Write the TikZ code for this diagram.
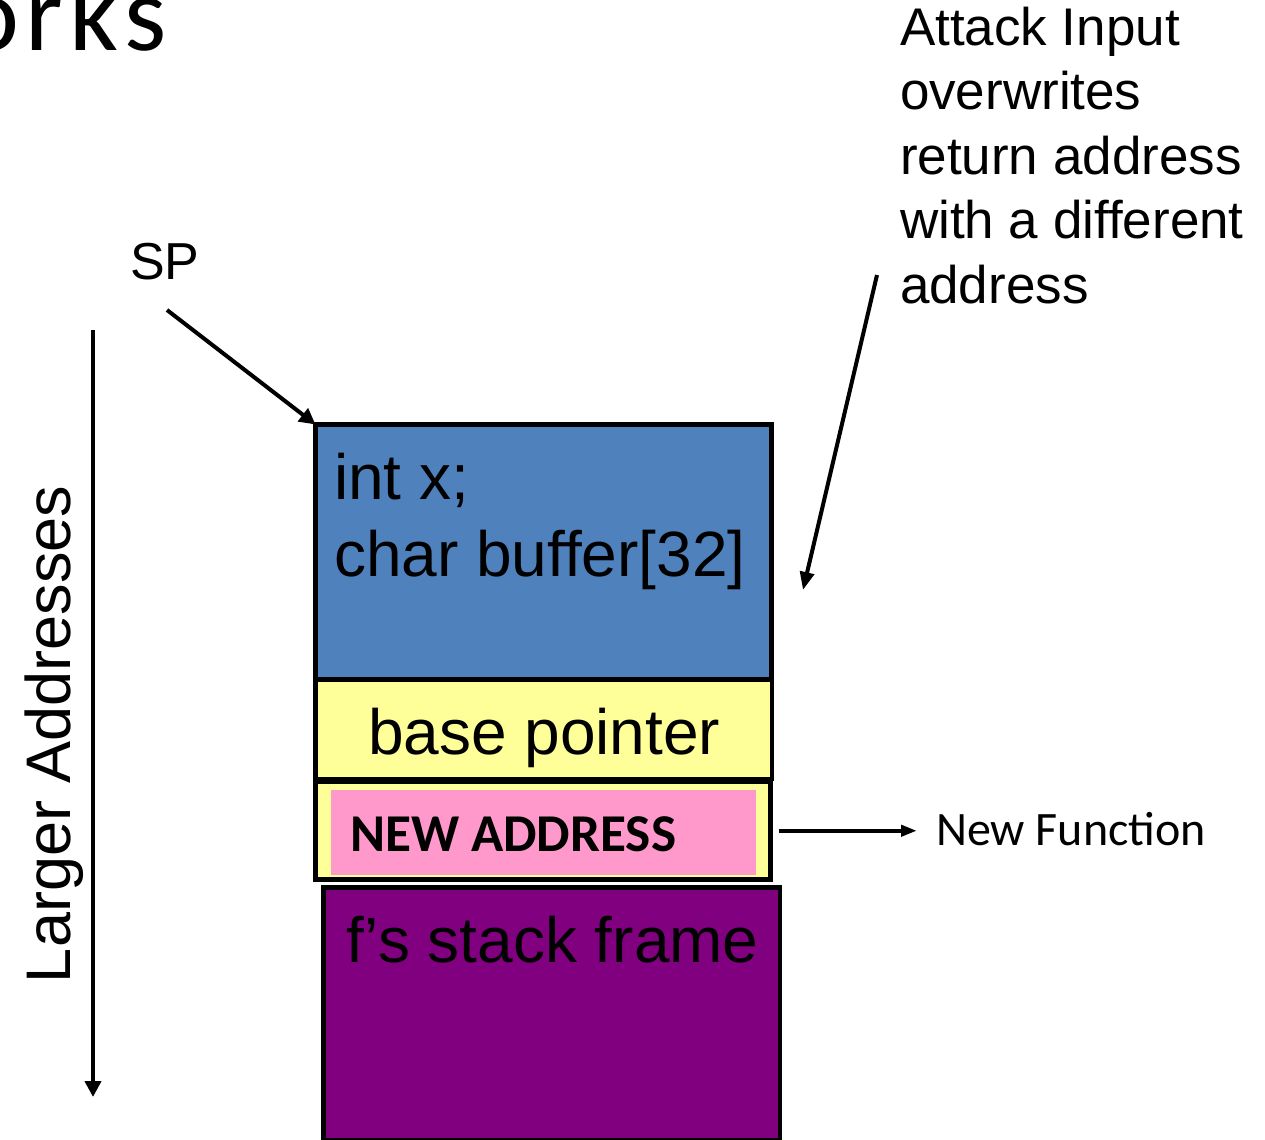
\documentclass[tikz,border=0pt]{standalone}
\usepackage{fontspec}
\setmainfont{Liberation Sans}
\newfontfamily\calibfont{Carlito}
\newfontfamily\titlefont[LetterSpace=6]{Carlito}
\usetikzlibrary{arrows.meta}

\definecolor{frameblue}{HTML}{4F81BD}
\definecolor{bpyellow}{HTML}{FFFF99}
\definecolor{addrpink}{HTML}{FF99CC}
\definecolor{callerpurple}{HTML}{800080}

\begin{document}
\begin{tikzpicture}[x=0.5pt,y=-0.5pt,
  stackbox/.style={draw=black, line width=2.4pt, inner sep=0pt, outer sep=0pt},
  lbl/.style={inner sep=0pt, outer sep=0pt, anchor=base west, text=black},
  bigtxt/.style={font=\fontsize{32}{38.5}\selectfont},
  arr/.style={line width=2.2pt, -{Triangle[length=8pt,width=8pt]}},
]
\useasboundingbox (0,0) rectangle (1265,1140);

% title fragment
\node[lbl, font=\titlefont\fontsize{54}{64}\selectfont] (title) at (-38,50) {orks};

% stack frame boxes
\node[stackbox, fill=frameblue, minimum width=228pt, minimum height=127.5pt] (blue) at (543.5,552) {};
\node[stackbox, fill=bpyellow, minimum width=228.25pt, minimum height=49.5pt] (base) at (543.75,729.5) {};
\node[stackbox, fill=bpyellow, minimum width=227.5pt, minimum height=48.75pt] (ret) at (543,830.75) {};
\node[fill=addrpink, inner sep=0pt, minimum width=212.5pt, minimum height=42.5pt] (pink) at (543.5,832.5) {};
\node[stackbox, fill=callerpurple, minimum width=228.25pt, minimum height=126.25pt] (caller) at (551.75,1013.75) {};

% box texts (a multi-line node sits on the baseline of its last line)
\node[lbl, bigtxt, align=left] (vars) at (334,576) {int x;\\char buffer[32]};
\node[lbl, bigtxt] (bptxt) at (368,754) {base pointer};
\node[lbl, font=\calibfont\bfseries\fontsize{26.6}{30}\selectfont] (newaddr) at (350,851) {NEW ADDRESS};
\node[lbl, bigtxt] (ftxt) at (346,962) {f’s stack frame};

% side labels
\node[lbl, font=\fontsize{31.5}{36}\selectfont, rotate=90] (larger) at (70,983) {Larger Addresses};
\node[lbl, font=\fontsize{26}{30}\selectfont] (sp) at (130,279) {SP};
\node[lbl, font=\fontsize{26.5}{32.2}\selectfont, align=left] (attack) at (900,303)
  {Attack Input\\overwrites\\return address\\with a different\\address};
\node[lbl, font=\calibfont\fontsize{24}{28}\selectfont] (nf) at (936,845) {New Function};

% connectors
\coordinate (addrtop) at (93,330);
\coordinate (addrbot) at (93,1097);
\coordinate (sptail) at (167,310);
\coordinate (atttail) at (877,275);
\coordinate (atthead) at (803,590);

\draw[arr] (addrtop) -- (addrbot);
\draw[arr, line width=2pt] (sptail) -- (blue.north west);
\draw[arr, line width=2pt, -{Triangle[length=9pt,width=7pt]}] (atttail) -- (atthead);
\draw[line width=2pt, -{Triangle[length=8pt,width=5.5pt]}, shorten <=4pt, shorten >=9.5pt]
  (ret.east) -- (ret.east -| nf.west);
\end{tikzpicture}
\end{document}
